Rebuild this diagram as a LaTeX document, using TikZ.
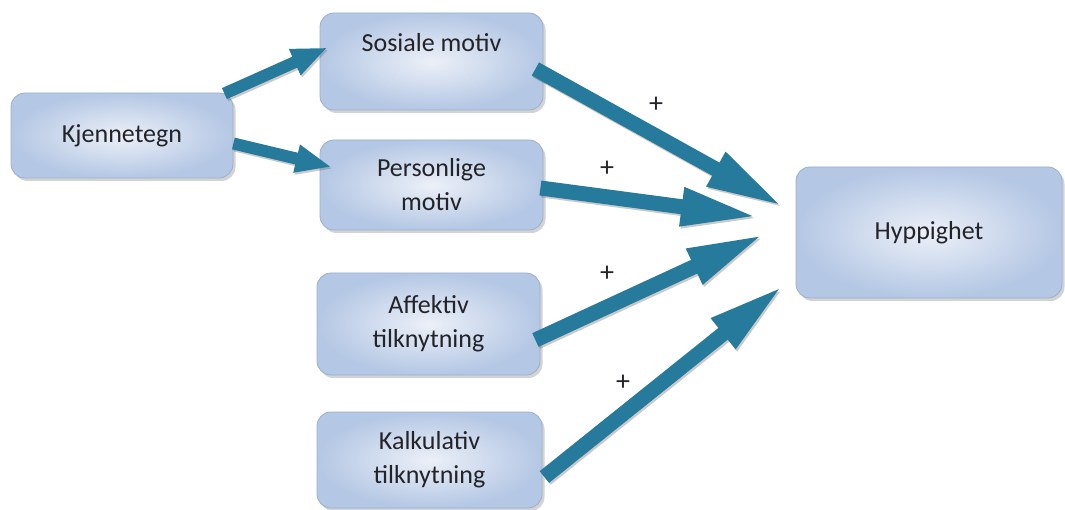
\documentclass[tikz,border=0pt]{standalone}
\usepackage{fontspec}
\setmainfont{Carlito}
\usetikzlibrary{arrows.meta,shadows,calc}
\definecolor{arrowc}{RGB}{38,122,155}
\definecolor{boxin}{RGB}{236,240,248}
\definecolor{boxout}{RGB}{180,199,228}
\definecolor{boxline}{RGB}{155,175,208}
\definecolor{txt}{RGB}{35,35,40}
\tikzset{
  box/.style={rounded corners=14pt, draw=boxline, line width=0.8pt,
    inner color=boxin, outer color=boxout,
    drop shadow={shadow xshift=2.5pt, shadow yshift=-3pt, opacity=0.35},
    align=center, text=txt, font=\fontsize{26}{34}\selectfont},
  bigarrow/.style={draw=arrowc, line width=15pt,
    -{Triangle[length=78pt,width=35pt]},
    preaction={draw=black!60, opacity=0.35, line width=15pt,
      -{Triangle[length=78pt,width=35pt]},
      transform canvas={shift={(1.5pt,-2pt)}}}},
  smallarrow/.style={draw=arrowc, line width=12pt,
    -{Triangle[length=36pt,width=26pt]},
    preaction={draw=black!60, opacity=0.35, line width=12pt,
      -{Triangle[length=36pt,width=26pt]},
      transform canvas={shift={(1.5pt,-2pt)}}}},
  plus/.style={font=\fontsize{28}{28}\selectfont, text=txt, inner sep=0pt}
}
\begin{document}
\begin{tikzpicture}[x=1pt,y=-1pt]
\useasboundingbox (0,0) rectangle (1065,510);
% boxes
\node[box, minimum width=222pt, minimum height=85pt] (kj) at (122,135.5) {Kjennetegn};
\node[box, minimum width=223pt, minimum height=97pt, text height=18pt, text depth=37pt] (sos) at (431.5,61.5) {Sosiale motiv};
\node[box, minimum width=223pt, minimum height=90pt] (per) at (431.5,185) {Personlige\\motiv};
\node[box, minimum width=223pt, minimum height=102pt] (aff) at (428.5,324) {Affektiv\\tilknytning};
\node[box, minimum width=225pt, minimum height=96pt] (kal) at (429.5,460) {Kalkulativ\\tilknytning};
\node[box, minimum width=266pt, minimum height=131pt] (hyp) at (929,232.5) {Hyppighet};
% arrow tips
\coordinate (t1) at (784,207);
\coordinate (t2) at (759,217);
\coordinate (t3) at (765,234);
\coordinate (t4) at (784,285);
% small arrows
\draw[smallarrow] ($(kj.north east)+(-9,1)$) -- ($(sos.west)+(8,-14)$);
\draw[smallarrow] ($(kj.east)+(0,8)$) -- ($(per.west)+(12,-18)$);
% big arrows
\draw[bigarrow] ($(sos.east)+(-8,7.5)$) -- (t1);
\draw[bigarrow] ($(per.east)+(-3,3)$) -- (t2);
\draw[bigarrow] ($(aff.east)+(-5,16)$) -- (t3);
\draw[bigarrow] ($(kal.east)+(2,17)$) -- (t4);
% plus signs
\node[plus] (p1) at (656,105) {+};
\node[plus] (p2) at (607,169) {+};
\node[plus] (p3) at (607,274) {+};
\node[plus] (p4) at (623,383) {+};
\end{tikzpicture}
\end{document}
